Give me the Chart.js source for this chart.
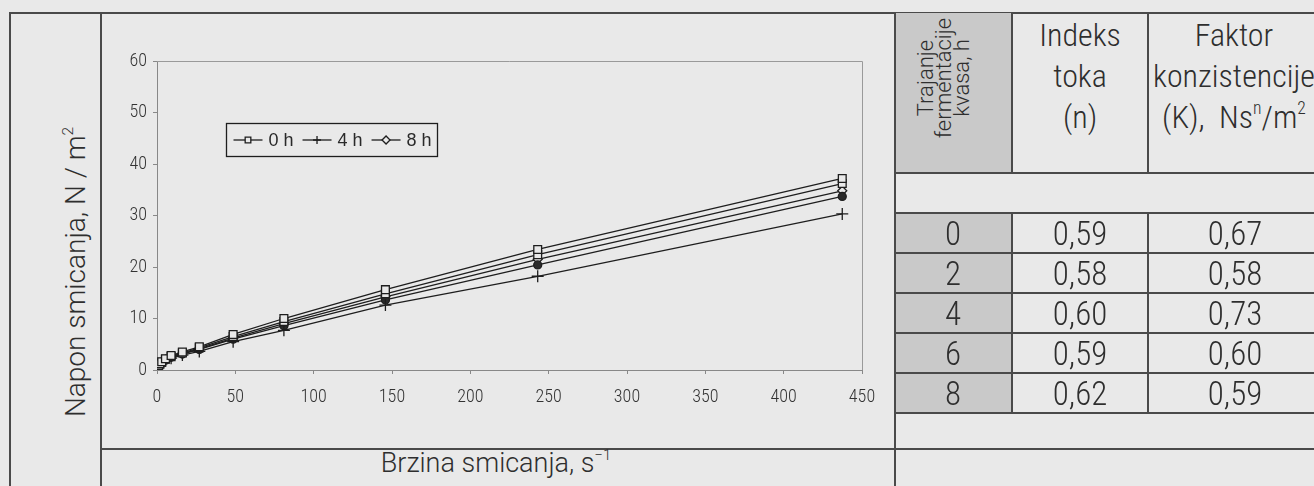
<!DOCTYPE html>
<html>
<head>
<meta charset="utf-8">
<script src="https://cdn.jsdelivr.net/npm/chart.js@4/dist/chart.umd.min.js"></script>
<style>
  html, body { margin: 0; padding: 0; }
  body {
    width: 1314px; height: 486px; overflow: hidden; position: relative;
    background: #e9e9e9;
    font-family: "Roboto Condensed", "Roboto", sans-serif;
    font-weight: 300;
    color: #2e2e2e;
  }
  .hl { position: absolute; height: 2px; background: #4a4a4a; }
  .vl { position: absolute; width: 2px; background: #4a4a4a; }
  .shade { position: absolute; background: #c9c9c9; }
  .txt { position: absolute; white-space: nowrap; line-height: 1; }
  .wide { font-family: "Roboto", sans-serif; font-weight: 300; }
  sup { font-size: 0.55em; vertical-align: 0.8em; line-height: 0; }
  #plot { position: absolute; left: 101px; top: 13px; width: 794px; height: 435px; }
</style>
</head>
<body>

<!-- frame around the figure -->
<div class="hl" style="left:10px; top:12px; width:1304px;"></div>
<div class="vl" style="left:9px; top:12px; height:474px;"></div>
<div class="vl" style="left:100px; top:12px; height:474px;"></div>
<div class="hl" style="left:100px; top:448px; width:1214px;"></div>

<!-- axis titles -->
<div class="txt wide" style="left:76px; top:272px; font-size:28px; transform:translate(-50%,-50%) rotate(-90deg);">Napon smicanja, N / m<sup>2</sup></div>
<div class="txt wide" style="left:496px; top:450px; font-size:27px; transform:translateX(-50%);">Brzina smicanja, s<sup>&minus;1</sup></div>

<div id="plot"><canvas id="c" width="794" height="435"></canvas></div>

<!-- parameter table -->
<div id="table"></div>

<script>
// shear rate (1/s) and measured shear stress (N/m2) for each fermentation time
const shearRate = [1.0, 1.8, 3.0, 5.4, 9.0, 16.2, 27.0, 48.6, 81.0, 145.8, 243.0, 437.4];
const stress0h = [0.9, 1.2, 1.6, 2.2, 2.8, 3.5, 4.5, 6.9, 10.0, 15.6, 23.4, 37.2];
const stress2h = [0.8, 1.1, 1.5, 2.1, 2.6, 3.3, 4.3, 6.5, 9.4, 14.8, 22.4, 36.2];
const stress4h = [0.7, 1.0, 1.3, 1.8, 2.3, 2.9, 3.6, 5.5, 7.7, 12.6, 18.2, 30.3];
const stress6h = [0.8, 1.0, 1.4, 1.9, 2.5, 3.1, 4.0, 6.0, 8.6, 13.6, 20.4, 33.7];
const stress8h = [0.8, 1.1, 1.5, 2.0, 2.6, 3.2, 4.1, 6.2, 9.0, 14.2, 21.5, 34.8];
const seriesNames = ['0 h', '2 h', '4 h', '6 h', '8 h'];
const legendNames = ['0 h', '4 h', '8 h'];
const xTickValues = [0, 50, 100, 150, 200, 250, 300, 350, 400, 450];
const yTickValues = [0, 10, 20, 30, 40, 50, 60];

// power-law parameters per fermentation time
const fermentationHours = [0, 2, 4, 6, 8];
const flowIndex = [0.59, 0.58, 0.60, 0.59, 0.62];
const consistency = [0.67, 0.58, 0.73, 0.60, 0.59];

const PAPER = '#e9e9e9';
const INK = '#1e1e1e';
const TICK_FONT = '"Roboto Condensed", "Roboto", sans-serif';

function pts(ys) { return shearRate.map((x, i) => ({ x: x, y: ys[i] })); }

const markerStyles = {
  '0 h': { pointStyle: 'rect', pointRadius: 5.5, pointBackgroundColor: PAPER },
  '2 h': { pointStyle: 'rect', pointRadius: 5.5, pointBackgroundColor: PAPER },
  '4 h': { pointStyle: 'cross', pointRadius: 6, pointBackgroundColor: PAPER },
  '6 h': { pointStyle: 'circle', pointRadius: 4, pointBackgroundColor: '#2a2a2a' },
  '8 h': { pointStyle: 'rectRot', pointRadius: 4.5, pointBackgroundColor: PAPER }
};
const seriesValues = [stress0h, stress2h, stress4h, stress6h, stress8h];

const datasets = seriesNames.map((name, i) => Object.assign({
  label: name,
  data: pts(seriesValues[i]),
  showLine: true,
  borderColor: INK,
  borderWidth: 1.3,
  pointBorderColor: INK,
  pointBorderWidth: 1.3,
  tension: 0
}, markerStyles[name]));

// light frame around the plotting area (top and right edges)
const plotFrame = {
  id: 'plotFrame',
  beforeDatasetsDraw(chart) {
    const { ctx, chartArea: a } = chart;
    ctx.save();
    ctx.strokeStyle = '#9a9a9a';
    ctx.lineWidth = 1;
    ctx.beginPath();
    ctx.moveTo(a.left, a.top + 0.5);
    ctx.lineTo(a.right + 0.5, a.top + 0.5);
    ctx.lineTo(a.right + 0.5, a.bottom);
    ctx.stroke();
    ctx.restore();
  }
};

// boxed legend inside the plot, line + marker per entry
const boxLegend = {
  id: 'boxLegend',
  afterDatasetsDraw(chart) {
    const { ctx } = chart;
    const box = { x: 125.5, y: 110.5, w: 211, h: 33 };
    ctx.save();
    ctx.fillStyle = PAPER;
    ctx.fillRect(box.x, box.y, box.w, box.h);
    ctx.strokeStyle = INK;
    ctx.lineWidth = 1.3;
    ctx.strokeRect(box.x, box.y, box.w, box.h);
    const cy = box.y + box.h / 2;
    let x = box.x + 7;
    ctx.font = '18px "Liberation Sans", Arial, sans-serif';
    ctx.textBaseline = 'middle';
    legendNames.forEach(name => {
      const ds = chart.data.datasets.find(d => d.label === name);
      ctx.strokeStyle = INK;
      ctx.lineWidth = 1.3;
      ctx.beginPath();
      ctx.moveTo(x, cy);
      ctx.lineTo(x + 29, cy);
      ctx.stroke();
      ctx.fillStyle = ds.pointBackgroundColor;
      ctx.strokeStyle = INK;
      Chart.helpers.drawPoint(ctx, {
        pointStyle: ds.pointStyle,
        radius: Math.min(ds.pointRadius, 4),
        rotation: 0,
        borderWidth: 1.2
      }, x + 14.5, cy);
      ctx.fillStyle = '#2a2a2a';
      ctx.fillText(name, x + 35, cy + 1);
      x += 34 + ctx.measureText(name).width + 10;
    });
    ctx.restore();
  }
};

new Chart(document.getElementById('c'), {
  type: 'scatter',
  data: { datasets: datasets },
  plugins: [plotFrame, boxLegend],
  options: {
    responsive: false,
    animation: false,
    events: [],
    layout: { padding: { left: 0, top: 48, right: 33, bottom: 0 } },
    plugins: { legend: { display: false }, tooltip: { enabled: false } },
    scales: {
      x: {
        type: 'linear', min: 0, max: 450,
        afterFit(s) { s.height = 78; },
        afterBuildTicks(s) { s.ticks = xTickValues.map(v => ({ value: v })); },
        ticks: { color: '#333', padding: 13, font: { family: TICK_FONT, size: 18, weight: '300' } },
        grid: { drawOnChartArea: false, tickLength: 4, color: '#888' },
        border: { color: '#888', width: 1 }
      },
      y: {
        type: 'linear', min: 0, max: 60,
        afterFit(s) { s.width = 56; },
        afterBuildTicks(s) { s.ticks = yTickValues.map(v => ({ value: v })); },
        ticks: { color: '#333', padding: 6, font: { family: TICK_FONT, size: 18, weight: '300' } },
        grid: { drawOnChartArea: false, tickLength: 4, color: '#888' },
        border: { color: '#888', width: 1 }
      }
    }
  }
});

// parameter table built from the arrays above
(function buildTable() {
  const t = document.getElementById('table');
  const colX = [895, 1012, 1148, 1322];
  const headTop = 13, headBottom = 173, bodyTop = 213, rowH = 40;
  const bodyBottom = bodyTop + rowH * fermentationHours.length;
  const add = (html) => t.insertAdjacentHTML('beforeend', html);
  const fmt = v => v.toFixed(2).replace('.', ',');

  add(`<div class="shade" style="left:${colX[0]}px; top:${headTop}px; width:${colX[1]-colX[0]}px; height:${headBottom-headTop}px;"></div>`);
  add(`<div class="shade" style="left:${colX[0]}px; top:${bodyTop}px; width:${colX[1]-colX[0]}px; height:${bodyBottom-bodyTop}px;"></div>`);

  add(`<div class="vl" style="left:${colX[0]-1}px; top:12px; height:474px;"></div>`);
  [1, 2].forEach(k => {
    add(`<div class="vl" style="left:${colX[k]-1}px; top:${headTop}px; height:${headBottom-headTop}px;"></div>`);
    add(`<div class="vl" style="left:${colX[k]-1}px; top:${bodyTop}px; height:${bodyBottom-bodyTop}px;"></div>`);
  });
  add(`<div class="hl" style="left:${colX[0]}px; top:${headBottom-1}px; width:420px;"></div>`);
  for (let r = 0; r <= fermentationHours.length; r++) {
    add(`<div class="hl" style="left:${colX[0]}px; top:${bodyTop + r*rowH - 1}px; width:420px;"></div>`);
  }

  // header cells
  add(`<div class="txt wide" style="left:944px; top:78px; font-size:22px; line-height:18px; text-align:center; transform:translate(-50%,-50%) rotate(-90deg);">Trajanje<br>fermentacije<br>kvasa, h</div>`);
  add(`<div class="txt" style="left:1080px; top:15px; font-size:32px; line-height:41px; text-align:center; transform:translateX(-50%);">Indeks<br>toka<br>(n)</div>`);
  add(`<div class="txt" style="left:1234px; top:15px; font-size:32px; line-height:41px; text-align:center; transform:translateX(-50%);">Faktor<br>konzistencije<br>(K),&nbsp; Ns<sup>n</sup>/m<sup>2</sup></div>`);

  // body cells
  fermentationHours.forEach((h, r) => {
    const cy = bodyTop + r*rowH + rowH/2;
    const cells = [String(h), fmt(flowIndex[r]), fmt(consistency[r])];
    const cx = [953, 1080, 1235];
    cells.forEach((s, k) => {
      add(`<div class="txt" style="left:${cx[k]}px; top:${cy}px; font-size:33px; transform:translate(-50%,-50%);">${s}</div>`);
    });
  });
})();
</script>
</body>
</html>
